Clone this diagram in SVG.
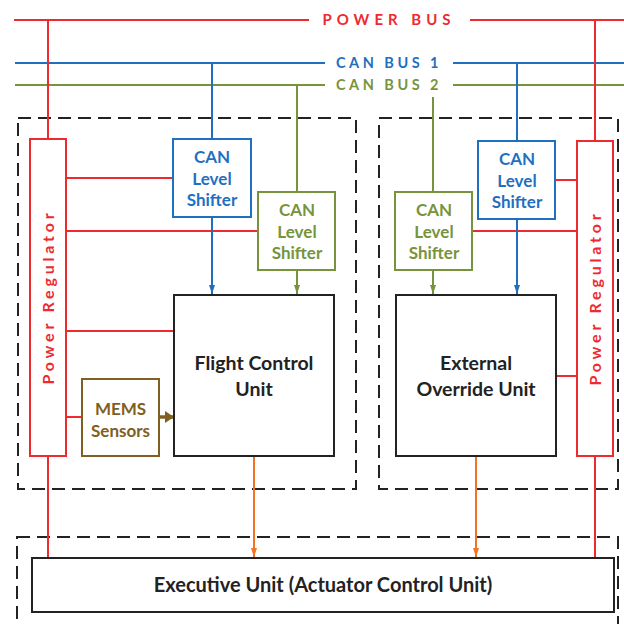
<svg xmlns="http://www.w3.org/2000/svg" width="624" height="624" viewBox="0 0 624 624">
<style>
.red{stroke:#ee2a2f;fill:none;stroke-width:2}
.blue{stroke:#1f70bf;fill:none;stroke-width:2}
.green{stroke:#77933c;fill:none;stroke-width:2}
.orange{stroke:#f07424;fill:none;stroke-width:2}
.dash{stroke:#222;fill:none;stroke-width:2;stroke-dasharray:13 7}
.box{fill:#fff;stroke-width:2}
.t{font-family:Lato,"Open Sans","Liberation Sans",sans-serif;font-weight:bold;text-anchor:middle}
</style>
<defs>
<marker id="ab" markerWidth="10" markerHeight="6" refX="9" refY="3" orient="auto" markerUnits="userSpaceOnUse"><path d="M0,0 L9,3 L0,6 Z" fill="#1f70bf"/></marker>
<marker id="ag" markerWidth="10" markerHeight="6" refX="9" refY="3" orient="auto" markerUnits="userSpaceOnUse"><path d="M0,0 L9,3 L0,6 Z" fill="#77933c"/></marker>
<marker id="ao" markerWidth="10" markerHeight="6" refX="9" refY="3" orient="auto" markerUnits="userSpaceOnUse"><path d="M0,0 L9,3 L0,6 Z" fill="#f07424"/></marker>
<marker id="am" markerWidth="10" markerHeight="12" refX="9" refY="6" orient="auto" markerUnits="userSpaceOnUse"><path d="M0,0 L9,6 L0,12 Z" fill="#7f6022"/></marker>
</defs>
<g id="dashed-groups">
<rect class="dash" x="18" y="118" width="338" height="371"/>
<rect class="dash" x="379" y="118" width="239" height="371"/>
<rect class="dash" x="17" y="537" width="601" height="110"/>
</g>
<g id="connectors">
<path class="red" d="M14,20 H309 M470,20 H624"/>
<path class="blue" d="M15,63 H325 M453,63 H624"/>
<path class="green" d="M15,85 H325 M453,85 H624"/>
<path class="red" d="M48,20 V139 M48,456 V557 M595,20 V141 M595,456 V557"/>
<path class="red" d="M66,178 H173 M66,231 H258 M66,331 H174 M66,417 H82"/>
<path class="red" d="M555,180 H577 M472,231 H577 M556,376 H577"/>
<path class="blue" d="M212,63 V139 M517,63 V141"/>
<path class="green" d="M297,85 V192 M433,97 V192"/>
<path class="blue" d="M212,217 V294" marker-end="url(#ab)"/>
<path class="green" d="M297,270 V294" marker-end="url(#ag)"/>
<path class="green" d="M433,270 V294" marker-end="url(#ag)"/>
<path class="blue" d="M517,219 V294" marker-end="url(#ab)"/>
<path class="orange" d="M254,456 V557" marker-end="url(#ao)"/>
<path class="orange" d="M476,456 V557" marker-end="url(#ao)"/>
<path d="M159,417 H174" stroke="#7f6022" stroke-width="3.5" fill="none" marker-end="url(#am)"/>
</g>
<g id="bus-labels">
<text class="t" x="389" y="25" font-size="15" fill="#ee2a2f" letter-spacing="5">POWER BUS</text>
<text class="t" x="389" y="68" font-size="14.5" fill="#1f70bf" letter-spacing="3.5">CAN BUS 1</text>
<text class="t" x="389" y="90" font-size="14.5" fill="#77933c" letter-spacing="3.5">CAN BUS 2</text>
</g>
<g id="power-regulator-left">
<rect class="box" x="30" y="139" width="36" height="317" stroke="#ee2a2f"/>
<text class="t" transform="translate(54,297) rotate(-90)" font-size="16" fill="#ee2a2f" letter-spacing="3.8">Power Regulator</text>
</g>
<g id="power-regulator-right">
<rect class="box" x="577" y="141" width="36" height="315" stroke="#ee2a2f"/>
<text class="t" transform="translate(601,298) rotate(-90)" font-size="16" fill="#ee2a2f" letter-spacing="3.8">Power Regulator</text>
</g>
<g id="can-shifter-blue-left">
<rect class="box" x="173" y="139" width="78" height="78" stroke="#1f70bf"/>
<text class="t" font-size="17" fill="#1f70bf"><tspan x="212" y="163">CAN</tspan><tspan x="212" y="185">Level</tspan><tspan x="212" y="206">Shifter</tspan></text>
</g>
<g id="can-shifter-green-left">
<rect class="box" x="258" y="192" width="77" height="78" stroke="#77933c"/>
<text class="t" font-size="17" fill="#77933c"><tspan x="297" y="216">CAN</tspan><tspan x="297" y="238">Level</tspan><tspan x="297" y="259">Shifter</tspan></text>
</g>
<g id="can-shifter-green-right">
<rect class="box" x="395" y="192" width="77" height="78" stroke="#77933c"/>
<text class="t" font-size="17" fill="#77933c"><tspan x="434" y="216">CAN</tspan><tspan x="434" y="238">Level</tspan><tspan x="434" y="259">Shifter</tspan></text>
</g>
<g id="can-shifter-blue-right">
<rect class="box" x="478" y="141" width="77" height="78" stroke="#1f70bf"/>
<text class="t" font-size="17" fill="#1f70bf"><tspan x="517" y="165">CAN</tspan><tspan x="517" y="187">Level</tspan><tspan x="517" y="208">Shifter</tspan></text>
</g>
<g id="flight-control-unit">
<rect class="box" x="174" y="295" width="160" height="161" stroke="#222"/>
<text class="t" font-size="19.500" fill="#222"><tspan x="254" y="370">Flight Control</tspan><tspan x="254" y="396">Unit</tspan></text>
</g>
<g id="mems-sensors">
<rect class="box" x="82" y="379" width="77" height="77" stroke="#7f6022"/>
<text class="t" font-size="17" fill="#7f6022"><tspan x="120.500" y="415">MEMS</tspan><tspan x="120.500" y="437">Sensors</tspan></text>
</g>
<g id="external-override-unit">
<rect class="box" x="396" y="295" width="160" height="161" stroke="#222"/>
<text class="t" font-size="19.500" fill="#222"><tspan x="476" y="370">External</tspan><tspan x="476" y="396">Override Unit</tspan></text>
</g>
<g id="executive-unit">
<rect class="box" x="32" y="558" width="582" height="54" stroke="#222"/>
<text class="t" x="323" y="592" font-size="20" fill="#222">Executive Unit (Actuator Control Unit)</text>
</g>
</svg>
